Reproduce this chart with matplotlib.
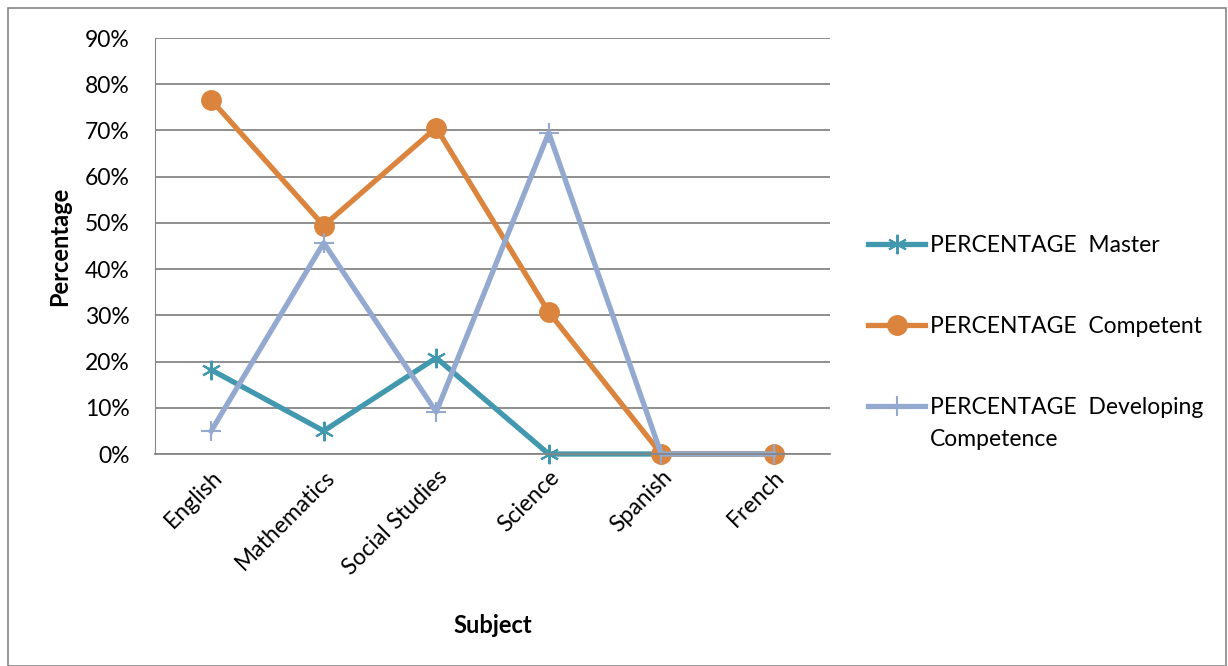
#import necessary libraries
import matplotlib.pyplot as plt
from matplotlib.patches import Rectangle
from matplotlib.ticker import PercentFormatter

plt.rcParams['font.family'] = ['Lato', 'DejaVu Sans']

#data
subjects = ['English', 'Mathematics', 'Social Studies', 'Science', 'Spanish', 'French']
master = [18.2, 5.0, 20.8, 0, 0, 0]
competent = [76.6, 49.4, 70.6, 30.7, 0, 0]
developing = [5.0, 45.7, 9.1, 69.5, 0, 0]

#draw figure
W, H = 1228, 666
fig = plt.figure(figsize=(W / 100, H / 100), dpi=100)
ax = fig.add_axes([0.1262, 0.3183, 0.5497, 0.6246])
x = range(len(subjects))

ax.plot(x, master, color='#4198AF', linewidth=3.8, marker=(6, 2, 0), markersize=14,
        markeredgewidth=1.5, clip_on=False, label='PERCENTAGE  Master')
ax.plot(x, competent, color='#DB843D', linewidth=3.8, marker='o', markersize=14,
        clip_on=False, label='PERCENTAGE  Competent')
ax.plot(x, developing, color='#93A9CF', linewidth=3.8, marker='+', markersize=15,
        markeredgewidth=1.5, clip_on=False, label='PERCENTAGE  Developing')

ax.set_xlim(-0.5, len(subjects) - 0.5)
ax.set_ylim(0, 90)
ax.set_yticks(range(0, 91, 10))
ax.yaxis.set_major_formatter(PercentFormatter(decimals=0))
ax.set_xticks(list(x))
ax.set_xticklabels(subjects, rotation=45, ha='right', rotation_mode='anchor')
ax.grid(axis='y', color='#868686', linewidth=1.3)
ax.set_axisbelow(True)
for s in ['top', 'right']:
    ax.spines[s].set_visible(False)
ax.spines['left'].set_color('#868686')
ax.spines['bottom'].set_color('#868686')
ax.spines['bottom'].set_linewidth(1.3)
ax.tick_params(axis='y', labelsize=16.5, length=0, pad=18)
ax.tick_params(axis='x', labelsize=16.5, length=0, pad=9)
ax.set_ylabel('Percentage', fontsize=17, fontweight='bold', labelpad=10)
ax.set_xlabel('Subject', fontsize=17, fontweight='bold', labelpad=25)

leg = fig.legend(loc='upper left', bbox_to_anchor=(868 / W, 1 - 235 / H), frameon=False,
                 fontsize=16.5, handlelength=2.5, handletextpad=0.2, labelspacing=2.62,
                 borderpad=0, borderaxespad=0)

#second line of the last legend entry, kept under the first line
fig.canvas.draw()
bb = leg.get_texts()[2].get_window_extent()
fig.text(bb.x0 / W, (bb.y1 - 32) / H, 'Competence', fontsize=16.5, va='top', ha='left')

fig.patches.append(Rectangle((0.0065, 0.0), 0.992, 0.988, transform=fig.transFigure,
                             fill=False, edgecolor='#868686', linewidth=1.2))

plt.savefig('out.png')
